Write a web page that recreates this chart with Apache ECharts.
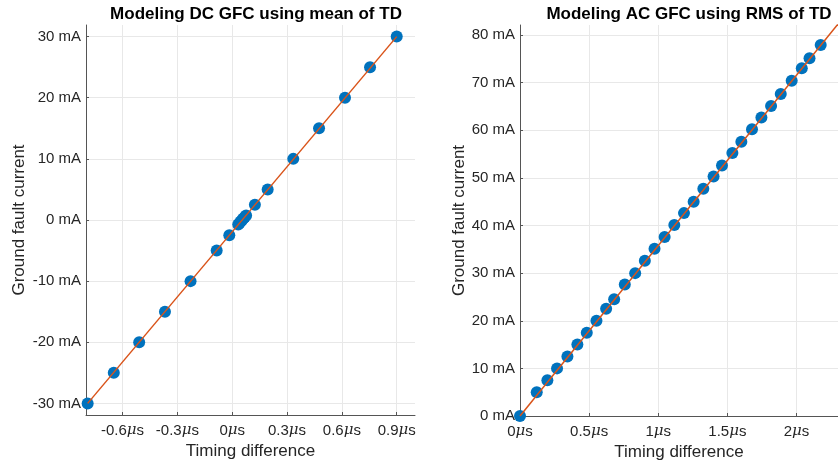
<!DOCTYPE html>
<html>
<head>
<meta charset="utf-8">
<script src="https://cdn.jsdelivr.net/npm/echarts@6/dist/echarts.min.js"></script>
<style>
  html, body { margin: 0; padding: 0; background: #fff; }
  #chart { width: 838px; height: 468px; }
</style>
</head>
<body>
<div id="chart"></div>
<script>
// left panel: DC, mean of TD
var dcTd = [-0.791, -0.648, -0.509, -0.368, -0.228, -0.085, -0.016, 0.033, 0.040, 0.047, 0.054, 0.061, 0.069, 0.076, 0.124, 0.194, 0.334, 0.475, 0.617, 0.754, 0.9];
var dcCurrent = [-30, -25, -20, -15, -10, -5, -2.5, -0.75, -0.5, -0.25, 0, 0.25, 0.5, 0.75, 2.5, 5, 10, 15, 20, 25, 30];
var dcFitX = [-0.791, 0.9];
var dcFitY = [-30, 30];
var dcXTicks = [-0.6, -0.3, 0, 0.3, 0.6, 0.9];
var dcYTicks = [-30, -20, -10, 0, 10, 20, 30];

// right panel: AC, RMS of TD
var acTd = [0, 0.121, 0.198, 0.268, 0.343, 0.415, 0.483, 0.553, 0.623, 0.681, 0.758, 0.833, 0.903, 0.973, 1.046, 1.116, 1.186, 1.256, 1.326, 1.400, 1.461, 1.536, 1.601, 1.678, 1.746, 1.816, 1.886, 1.965, 2.038, 2.094, 2.175];
var acCurrent = [0, 5, 7.5, 10, 12.5, 15, 17.5, 20, 22.5, 24.5, 27.6, 30, 32.6, 35.1, 37.6, 40.1, 42.6, 45, 47.7, 50.3, 52.6, 55.2, 57.6, 60.2, 62.7, 65.1, 67.6, 70.4, 73, 75.1, 77.9];
var acFitX = [0, 2.3];
var acFitY = [0, 82.3];
var acXTicks = [0, 0.5, 1, 1.5, 2];
var acYTicks = [0, 10, 20, 30, 40, 50, 60, 70, 80];

function pairs(xs, ys) {
    return xs.map(function (x, i) { return [x, ys[i]]; });
}

var FONT = '"Liberation Sans", Arial, sans-serif';
var TXT = '#262626';

// tick text like "0.3μs", μ in italic
function usLabel(v) {
    var s = String(Math.round(v * 10) / 10);
    return '{n|' + s + '}{m|μ}{n|s}';
}

function xAxisOf(idx, min, max, ticks) {
    return {
        gridIndex: idx, type: 'value', min: min, max: max,
        name: 'Timing difference', nameLocation: 'middle', nameGap: 28,
        nameTextStyle: { fontFamily: FONT, fontSize: 17, color: TXT },
        axisLine: { onZero: false, lineStyle: { color: '#555', width: 1 } },
        axisTick: { show: true, inside: true, length: 3, customValues: ticks, lineStyle: { color: '#555' } },
        axisLabel: {
            customValues: ticks, margin: 8, formatter: usLabel,
            rich: {
                n: { fontFamily: FONT, fontSize: 15, color: TXT },
                m: { fontFamily: '"DejaVu Serif", serif', fontStyle: 'italic', fontSize: 15, color: TXT }
            }
        },
        splitLine: { show: true, lineStyle: { color: '#e8e8e8', width: 1 } }
    };
}

function yAxisOf(idx, min, max, ticks, gap) {
    return {
        gridIndex: idx, type: 'value', min: min, max: max,
        name: 'Ground fault current', nameLocation: 'middle', nameGap: gap,
        nameTextStyle: { fontFamily: FONT, fontSize: 17, color: TXT },
        axisLine: { show: true, onZero: false, lineStyle: { color: '#555', width: 1 } },
        axisTick: { show: true, inside: true, length: 3, customValues: ticks, lineStyle: { color: '#555' } },
        axisLabel: {
            customValues: ticks, margin: 5,
            fontFamily: FONT, fontSize: 15, color: TXT,
            formatter: function (v) { return v + ' mA'; }
        },
        splitLine: { show: true, lineStyle: { color: '#e8e8e8', width: 1 } }
    };
}

var chart = echarts.init(document.getElementById('chart'));
chart.setOption({
    animation: false,
    backgroundColor: '#fff',
    title: [
        { text: 'Modeling DC GFC using mean of TD', left: 251, top: 1, textAlign: 'center',
          textStyle: { fontFamily: FONT, fontSize: 17, fontWeight: 'bold', color: '#000' } },
        { text: 'Modeling AC GFC using RMS of TD', left: 684, top: 1, textAlign: 'center',
          textStyle: { fontFamily: FONT, fontSize: 17, fontWeight: 'bold', color: '#000' } }
    ],
    grid: [
        { left: 86, top: 25, width: 329, height: 390 },
        { left: 520, top: 25, width: 328, height: 391 }
    ],
    xAxis: [
        xAxisOf(0, -0.8, 1.0, dcXTicks),
        xAxisOf(1, 0, 2.3, acXTicks)
    ],
    yAxis: [
        yAxisOf(0, -31.9, 31.9, dcYTicks, 58),
        yAxisOf(1, 0, 82.1, acYTicks, 52)
    ],
    series: [
        { type: 'scatter', xAxisIndex: 0, yAxisIndex: 0, data: pairs(dcTd, dcCurrent),
          symbolSize: 12, itemStyle: { color: '#0072BD', opacity: 1 }, z: 2 },
        { type: 'line', xAxisIndex: 0, yAxisIndex: 0, data: pairs(dcFitX, dcFitY),
          showSymbol: false, lineStyle: { color: '#D95319', width: 1.5 }, z: 3 },
        { type: 'scatter', xAxisIndex: 1, yAxisIndex: 1, data: pairs(acTd, acCurrent),
          symbolSize: 12, itemStyle: { color: '#0072BD', opacity: 1 }, z: 2, clip: false },
        { type: 'line', xAxisIndex: 1, yAxisIndex: 1, data: pairs(acFitX, acFitY),
          showSymbol: false, clip: true, lineStyle: { color: '#D95319', width: 1.5 }, z: 3 }
    ]
});
</script>
</body>
</html>
